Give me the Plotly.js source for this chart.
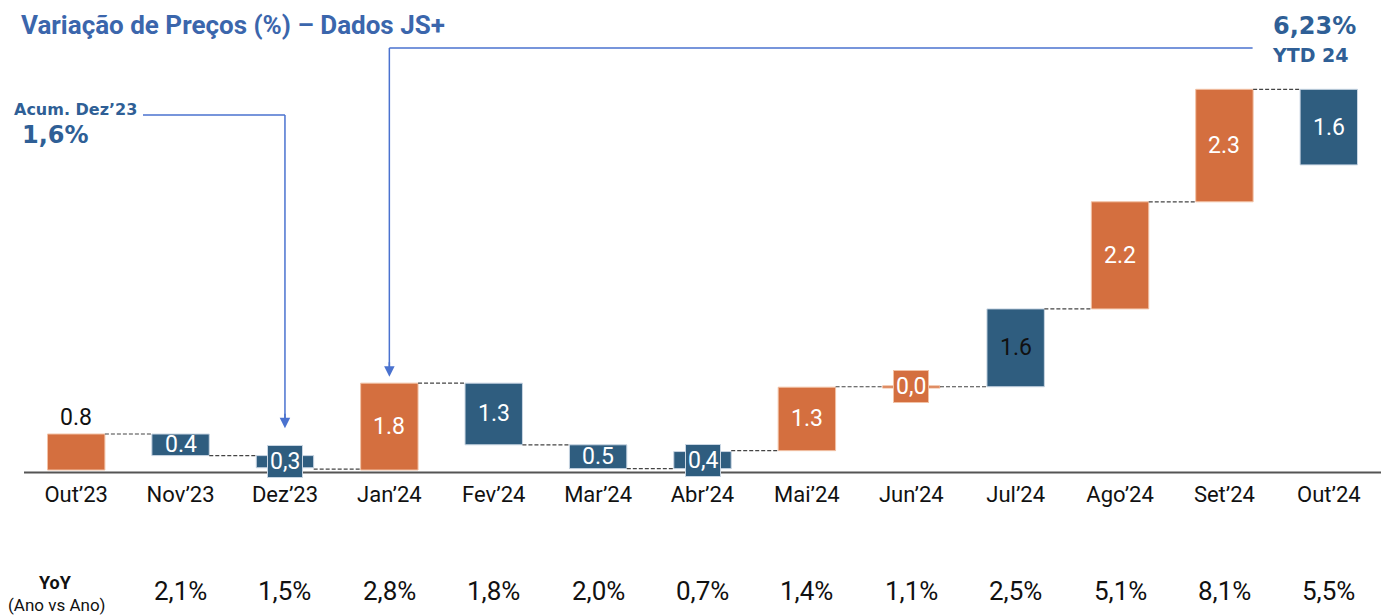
<!DOCTYPE html>
<html>
<head>
<meta charset="utf-8">
<script src="https://cdn.plot.ly/plotly-3.0.1.min.js"></script>
<style>html,body{margin:0;padding:0;background:#fff;}#chart{width:1386px;height:615px;}</style>
</head>
<body>
<div id="chart"></div>
<script>
// ---------- DATA ----------
const meses = ['Out’23','Nov’23','Dez’23','Jan’24','Fev’24','Mar’24','Abr’24','Mai’24','Jun’24','Jul’24','Ago’24','Set’24','Out’24'];
const baseBarra = [0.00, 0.32, 0.05, 0.00, 0.56, 0.03, 0.03, 0.43, 1.82, 1.85, 3.58, 5.96, 6.78];
const topoBarra = [0.80, 0.80, 0.32, 1.93, 1.93, 0.56, 0.41, 1.84, 1.87, 3.58, 5.96, 8.46, 8.46];
const rotulos   = ['0.8','0.4','0,3','1.8','1.3','0.5','0,4','1.3','0,0','1.6','2.2','2.3','1.6'];
const grupo     = ['L','A','A','L','A','A','A','L','L','A','L','L','A'];
const conectores = [0.80, 0.32, 0.02, 1.93, 0.56, 0.03, 0.43, 1.85, 1.85, 3.58, 5.96, 8.46];
const yoyMeses  = ['Nov’23','Dez’23','Jan’24','Fev’24','Mar’24','Abr’24','Mai’24','Jun’24','Jul’24','Ago’24','Set’24','Out’24'];
const yoyValores = ['2,1%','1,5%','2,8%','1,8%','2,0%','0,7%','1,4%','1,1%','2,5%','5,1%','8,1%','5,5%'];
const acumDez23 = '1,6%';
const ytd24 = '6,23%';

// ---------- STYLE ----------
const W = 1386, H = 615;
const M = {l: 24, r: 5, t: 43, b: 141};
const cores = {L: '#D46F3F', A: '#2F5D7F'};
const bordas = {L: '#F2C2A6', A: '#C9D6E3'};
const corTitulo = '#3B66AC';
const corCallout = '#2F5F96';
const corSeta = '#4A72CF';
const larguraBarra = 0.55;
const boxIdx = [2, 6, 8];          // labels drawn inside small boxes
const pretoIdx = [0, 9];           // labels drawn in black
const fora = [0];                  // label above bar
const yRange = [-0.0889, 9.489];

const pw = W - M.l - M.r, ph = H - M.t - M.b;
const px2x = p => (p - M.l) / pw;   // pixel -> paper x
const px2y = p => (H - M.b - p) / ph; // pixel -> paper y

// ---------- TRACES ----------
const alturas = topoBarra.map((t, i) => t - baseBarra[i]);
const barras = {
  type: 'bar',
  x: meses,
  y: alturas,
  base: baseBarra,
  width: larguraBarra,
  marker: {
    color: grupo.map(g => cores[g]),
    line: {color: grupo.map(g => bordas[g]), width: 1}
  },
  hoverinfo: 'skip',
  showlegend: false
};

// ---------- SHAPES ----------
const shapes = [];
conectores.forEach((v, i) => {
  shapes.push({
    type: 'line', xref: 'x', yref: 'y',
    x0: i + larguraBarra / 2, x1: i + 1 - larguraBarra / 2, y0: v, y1: v,
    line: {color: '#444444', width: 1.2, dash: '4px,2px'}
  });
});
// baseline
shapes.push({type: 'line', xref: 'paper', yref: 'y', x0: 0, x1: 1, y0: -0.056, y1: -0.056,
  line: {color: '#555555', width: 2.2}});
// callout lines
const iDez = meses.indexOf('Dez’23'), iJan = meses.indexOf('Jan’24');
const seta1 = {xStart: 0.64, yTop: 7.89, yTip: 0.93};
const seta2 = {xEnd: 11.27, yTop: 9.38, yTip: 2.07};
shapes.push({type: 'line', xref: 'x', yref: 'y', x0: seta1.xStart, x1: iDez, y0: seta1.yTop, y1: seta1.yTop, line: {color: corSeta, width: 1.5}});
shapes.push({type: 'line', xref: 'x', yref: 'y', x0: iDez, x1: iDez, y0: seta1.yTop, y1: seta1.yTip + 0.1, line: {color: corSeta, width: 1.5}});
shapes.push({type: 'line', xref: 'x', yref: 'y', x0: iJan, x1: seta2.xEnd, y0: seta2.yTop, y1: seta2.yTop, line: {color: corSeta, width: 1.5}});
shapes.push({type: 'line', xref: 'x', yref: 'y', x0: iJan, x1: iJan, y0: seta2.yTop, y1: seta2.yTip + 0.1, line: {color: corSeta, width: 1.5}});

// ---------- ANNOTATIONS ----------
const ann = [];
const fontNum = {family: 'Roboto, sans-serif', size: 23};
rotulos.forEach((t, i) => {
  const isBox = boxIdx.includes(i);
  const cor = pretoIdx.includes(i) ? '#111111' : '#FFFFFF';
  if (fora.includes(i)) {
    ann.push({x: meses[i], y: topoBarra[i], xref: 'x', yref: 'y', text: t, showarrow: false,
      yanchor: 'bottom', yshift: 1, font: Object.assign({}, fontNum, {color: cor})});
  } else {
    const a = {x: meses[i], y: (baseBarra[i] + topoBarra[i]) / 2, xref: 'x', yref: 'y', text: t,
      showarrow: false, yanchor: 'middle', font: Object.assign({}, fontNum, {color: cor})};
    if (isBox) {
      a.bgcolor = cores[grupo[i]];
      a.bordercolor = bordas[grupo[i]];
      a.borderwidth = 1;
      a.borderpad = 2;
    }
    ann.push(a);
  }
});
// arrowheads
ann.push({x: iDez, y: seta1.yTip, xref: 'x', yref: 'y', text: '', showarrow: true, ax: 0, ay: -16,
  arrowhead: 2, arrowsize: 1.4, arrowwidth: 1.5, arrowcolor: corSeta, standoff: 0});
ann.push({x: iJan, y: seta2.yTip, xref: 'x', yref: 'y', text: '', showarrow: true, ax: 0, ay: -16,
  arrowhead: 2, arrowsize: 1.4, arrowwidth: 1.5, arrowcolor: corSeta, standoff: 0});
// callout texts
const fCall = (s) => ({family: 'DejaVu Sans, sans-serif', size: s, color: corCallout, weight: 700});
ann.push({xref: 'paper', yref: 'paper', x: px2x(12), y: px2y(110), xanchor: 'left', yanchor: 'middle',
  text: 'Acum. Dez’23', showarrow: false, font: fCall(16)});
ann.push({xref: 'paper', yref: 'paper', x: px2x(20), y: px2y(135), xanchor: 'left', yanchor: 'middle',
  text: acumDez23, showarrow: false, font: fCall(24)});
ann.push({xref: 'paper', yref: 'paper', x: px2x(1271), y: px2y(26), xanchor: 'left', yanchor: 'middle',
  text: ytd24, showarrow: false, font: fCall(24)});
ann.push({xref: 'paper', yref: 'paper', x: px2x(1270), y: px2y(55), xanchor: 'left', yanchor: 'middle',
  text: 'YTD 24', showarrow: false, font: fCall(19)});
// YoY row
ann.push({xref: 'paper', yref: 'paper', x: px2x(55), y: px2y(582), xanchor: 'center', yanchor: 'middle',
  text: 'YoY', showarrow: false, font: {family: 'Roboto, sans-serif', size: 18, color: '#111', weight: 700}});
ann.push({xref: 'paper', yref: 'paper', x: px2x(57), y: px2y(605), xanchor: 'center', yanchor: 'middle',
  text: '(Ano vs Ano)', showarrow: false, font: {family: 'Roboto, sans-serif', size: 17, color: '#111'}});
yoyValores.forEach((v, i) => {
  ann.push({xref: 'x', yref: 'paper', x: yoyMeses[i], y: px2y(591), xanchor: 'center', yanchor: 'middle',
    text: v, showarrow: false, font: {family: 'Roboto, sans-serif', size: 26, color: '#111'}});
});

// ---------- LAYOUT ----------
const layout = {
  width: W, height: H,
  margin: M,
  paper_bgcolor: '#ffffff', plot_bgcolor: '#ffffff',
  title: {text: 'Variação de Preços (%) – Dados JS+', x: 21 / W, xref: 'container', xanchor: 'left',
    y: 1 - 25 / H, yref: 'container', yanchor: 'middle',
    font: {family: 'Roboto, sans-serif', size: 26, color: corTitulo, weight: 700}},
  xaxis: {type: 'category', range: [-0.5, meses.length - 0.5], showgrid: false, zeroline: false,
    showline: false, ticks: '', tickfont: {family: 'Roboto, sans-serif', size: 22, color: '#111'},
    ticklabelstandoff: 5, fixedrange: true},
  yaxis: {visible: false, range: yRange, fixedrange: true},
  shapes: shapes,
  annotations: ann,
  bargap: 0
};

Plotly.newPlot('chart', [barras], layout, {displayModeBar: false, staticPlot: true});
</script>
</body>
</html>
